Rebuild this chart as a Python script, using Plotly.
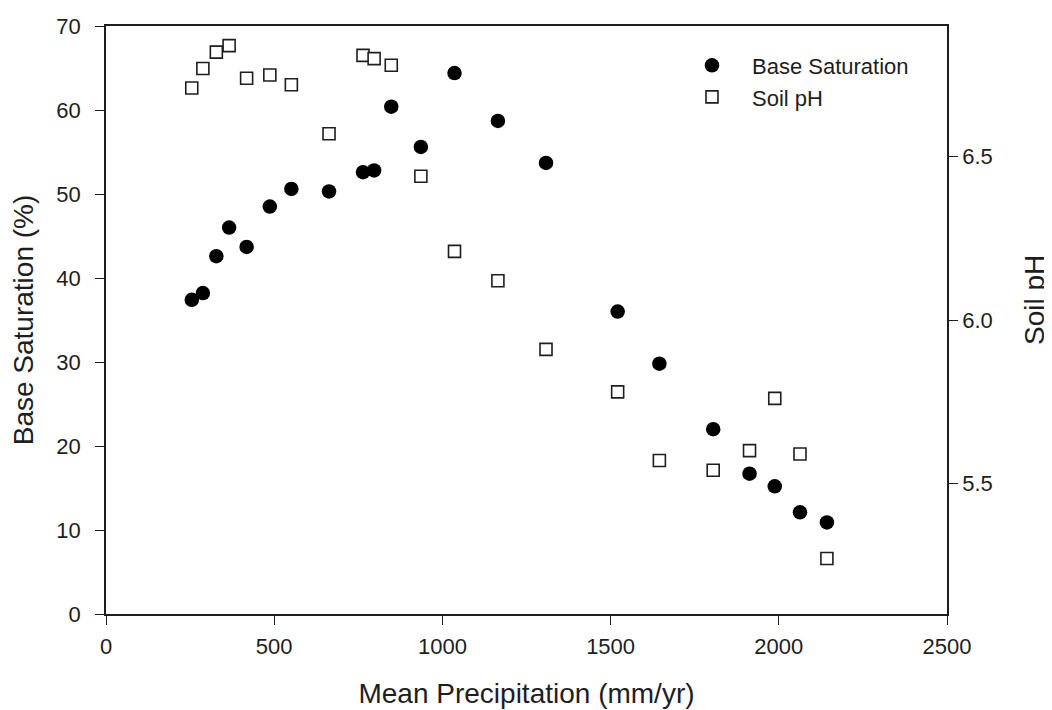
import plotly.graph_objects as go

# Data
precip = [255, 288, 328, 366, 418, 487, 551, 663, 764, 797, 848, 936,
          1036, 1165, 1308, 1521, 1645, 1805, 1913, 1988, 2063, 2143]
base_sat = [37.4, 38.2, 42.6, 46.0, 43.7, 48.5, 50.6, 50.3, 52.6, 52.8, 60.4, 55.6,
            64.4, 58.7, 53.7, 36.0, 29.8, 22.0, 16.7, 15.2, 12.1, 10.9]
soil_ph = [6.71, 6.77, 6.82, 6.84, 6.74, 6.75, 6.72, 6.57, 6.81, 6.80, 6.78, 6.44,
           6.21, 6.12, 5.91, 5.78, 5.57, 5.54, 5.60, 5.76, 5.59, 5.27]

series_names = ["Base Saturation", "Soil pH"]
x_ticks = [0, 500, 1000, 1500, 2000, 2500]
y_ticks = [0, 10, 20, 30, 40, 50, 60, 70]
ph_ticks = [5.5, 6.0, 6.5]

FONT = "Liberation Sans, Arial, sans-serif"
INK = "#1e1e1e"

# figure sized so that, with the page's 8px body margin, it fills the window
W, H = 1044, 702
ML, MT, PW, PH = 98, 18, 841, 588

fig = go.Figure()
fig.add_trace(go.Scatter(
    x=precip, y=base_sat, mode="markers", name=series_names[0],
    marker=dict(symbol="circle", size=14.5, color="#000000", line=dict(width=0)),
    yaxis="y",
))
fig.add_trace(go.Scatter(
    x=precip, y=soil_ph, mode="markers", name=series_names[1],
    marker=dict(symbol="square", size=12, color="white", line=dict(width=1.6, color=INK)),
    yaxis="y2",
))

axis_common = dict(
    showgrid=False, zeroline=False, showline=True, linecolor=INK, linewidth=1.6,
    ticks="outside", ticklen=9, tickwidth=1.4, tickcolor=INK,
    tickfont=dict(family=FONT, size=22, color=INK),
)

fig.update_layout(
    width=W, height=H,
    paper_bgcolor="white", plot_bgcolor="white",
    margin=dict(l=ML, r=W - ML - PW, t=MT, b=H - MT - PH, autoexpand=False),
    font=dict(family=FONT, color=INK),
    xaxis=dict(
        **axis_common, range=[0, 2500], tickvals=x_ticks, mirror=True,
        ticklabelstandoff=3,
        title=dict(text="Mean Precipitation (mm/yr)", font=dict(family=FONT, size=28, color=INK), standoff=25),
    ),
    yaxis=dict(
        **axis_common, range=[0, 70], tickvals=y_ticks, ticklabelstandoff=10,
        title=dict(text="Base Saturation (%)", font=dict(family=FONT, size=28, color=INK), standoff=15),
    ),
    yaxis2=dict(
        **axis_common, range=[5.1, 6.9], tickvals=ph_ticks, tickformat=".1f",
        tickprefix="\u2002",
        overlaying="y", side="right", anchor="x",
    ),
    legend=dict(
        x=0.673, y=0.9685, xanchor="left", yanchor="top",
        bgcolor="rgba(0,0,0,0)", borderwidth=0,
        font=dict(family=FONT, size=22, color=INK),
        itemsizing="trace", itemwidth=70,
    ),
    annotations=[dict(
        text="Soil pH", xref="paper", yref="paper",
        x=(1026 - ML) / PW, y=(MT + PH - 292) / PH,
        xanchor="center", yanchor="middle", textangle=-90, showarrow=False,
        font=dict(family=FONT, size=28, color=INK),
    )],
)

fig.write_html("out.html")
